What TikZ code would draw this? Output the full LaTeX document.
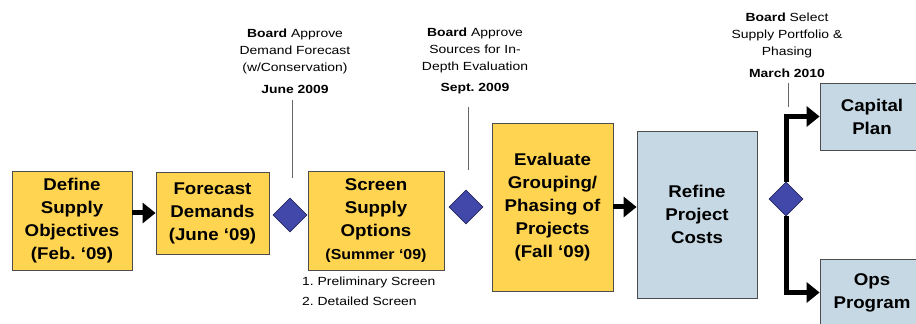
\documentclass[tikz,border=0pt]{standalone}
\usepackage{fontspec}
\setmainfont{Liberation Sans}[FakeStretch=1.1]
\newfontfamily\notefont{Liberation Sans}[FakeStretch=1.18]
\usetikzlibrary{arrows.meta,calc,positioning,shapes.geometric}
\definecolor{boxgold}{RGB}{255,212,80}
\definecolor{boxgrey}{RGB}{197,216,228}
\definecolor{gateblue}{RGB}{66,72,170}
\tikzset{
  stepbox/.style={draw=black!70, line width=0.8pt, fill=boxgold, align=center,
    inner sep=2pt, font=\bfseries\fontsize{17}{23}\selectfont},
  planbox/.style={stepbox, fill=boxgrey},
  gate/.style={diamond, draw=gateblue!55!black, line width=0.6pt, fill=gateblue,
    minimum width=34pt, minimum height=34pt, inner sep=0pt},
  flow/.style={line width=5pt, -{Triangle[length=13pt,width=20pt]}},
  tick/.style={draw=black!60, line width=0.8pt},
  note/.style={align=center, inner sep=0pt, font=\notefont\fontsize{11.8}{17}\selectfont},
  when/.style={inner sep=0pt, font=\notefont\bfseries\fontsize{11.8}{14}\selectfont},
}
\begin{document}
\begin{tikzpicture}[x=1pt,y=1pt]
    \clip (0,0) rectangle (916,324);
    % steps
    \node[stepbox, minimum width=120pt, minimum height=99pt] (obj) at (72,103.5)
        {Define\\Supply\\Objectives\\(Feb.\ ‘09)};
    \node[stepbox, minimum width=113pt, minimum height=82pt] (fcst) at (212.5,111)
        {Forecast\\Demands\\(June ‘09)};
    \node[stepbox, minimum width=136pt, minimum height=99pt] (scr) at (376,103.5)
        {Screen\\Supply\\Options\\{\fontsize{14.5}{20}\selectfont (Summer ‘09)}};
    \node[stepbox, minimum width=121pt, minimum height=168pt] (eval) at (552.5,117)
        {Evaluate\\Grouping/\\Phasing of\\Projects\\(Fall ‘09)};
    \node[planbox, minimum width=120pt, minimum height=167pt] (cost) at (697,109.5)
        {Refine\\Project\\Costs};
    \node[planbox, minimum width=104pt, minimum height=67pt] (cap) at (872,207.5)
        {Capital\\Plan};
    \node[planbox, minimum width=104pt, minimum height=67pt] (ops) at (872,31.5)
        {Ops\\Program};
    % board decisions
    \node[gate] (g1) at (290,109) {};
    \node[gate] (g2) at (466,117) {};
    \node[gate] (g3) at (786,125) {};
    \draw[flow] (fcst.west -| obj.east) -- (fcst.west);
    \draw[flow] (eval.east) -- (eval.east -| cost.west);
    \draw[flow] (g3.north) |- (cap.west);
    \draw[flow] (g3.south) |- (ops.west);
    % notes
    \node[when] (d1) at (295,235) {June 2009};
    \node[note, above=10pt of d1] (n1) {\textbf{Board} Approve\\Demand Forecast\\(w/Conservation)};
    \node[when] (d2) at (475,235) {Sept.\ 2009};
    \node[note, above=10pt of d2] (n2) {\textbf{Board} Approve\\Sources for In-\\Depth Evaluation};
    \node[when] (d3) at (787,251) {March 2010};
    \node[note, above=10pt of d3] (n3) {\textbf{Board} Select\\Supply Portfolio \&\\Phasing};
    \coordinate (t1) at (292,146);
    \coordinate (t2) at (468,154);
    \coordinate (t3) at (788,217);
    \draw[tick] (t1) -- (t1 |- 0,224);
    \draw[tick] (t2) -- (t2 |- 0,217);
    \draw[tick] (t3) -- (t3 |- 0,241);
    \node[note, anchor=north west, align=left, font=\notefont\fontsize{11.8}{20}\selectfont\frenchspacing]
        (sub) at (302,47) {1. Preliminary Screen\\2. Detailed Screen};
\end{tikzpicture}
\end{document}
